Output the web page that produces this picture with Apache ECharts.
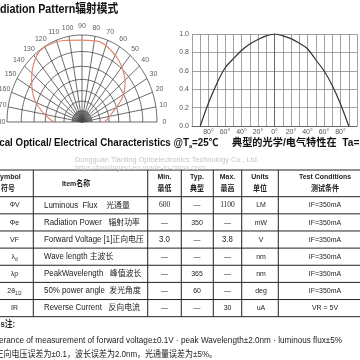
<!DOCTYPE html>
<html><head><meta charset="utf-8">
<script src="https://cdn.jsdelivr.net/npm/echarts@6/dist/echarts.min.js"></script>
<style>html,body{margin:0;padding:0;background:#fff}#c{width:360px;height:360px}</style>
</head><body><div id="c"></div>
<script>
// ---- radiation pattern (polar data: angle in degrees, relative radius) ----
const patternAngles = [0, 8, 15, 27, 38, 45, 55, 65, 75, 90, 105, 115, 125, 135, 145, 158, 169, 180];
const patternRadius = [0.30, 0.36, 0.42, 0.60, 0.73, 0.79, 0.86, 0.91, 0.95, 0.94, 0.97, 0.99, 0.99, 0.92, 0.82, 0.68, 0.52, 0.38];
const ringRadii = [0.13, 0.24, 0.36, 0.49, 0.64, 0.81, 1.0];
const angleTicks = [0, 10, 20, 30, 40, 50, 60, 70, 80, 90, 100, 110, 120, 130, 140, 150, 160, 170, 180];
// ---- relative intensity vs angle (cartesian) ----
const curveAngles = [-90, -80, -70, -60, -50, -40, -30, -20, -10, 0, 10, 20, 30, 40, 50, 60, 70, 80, 90];
const curveValues = [0, 0.25, 0.46, 0.63, 0.73, 0.82, 0.89, 0.94, 0.98, 1.0, 0.98, 0.95, 0.90, 0.84, 0.72, 0.60, 0.44, 0.24, 0];
// ---- table ----
const headerEn = ['Symbol', 'Item名称', 'Min.', 'Typ.', 'Max.', 'Units', 'Test Conditions'];
const headerCn = ['符号', '', '最低', '典型', '最高', '单位', '测试条件'];
const symbols = ['ΦV', 'Φe', 'VF', 'λ{sub|d}', 'λp', '2θ{sub|1/2}', 'IR'];
const items = ['Luminous  Flux    光通量', 'Radiation Power   辐射功率', 'Forward Voltage [1]正向电压', 'Wave length 主波长', 'PeakWavelength   峰值波长', '50% power angle  发光角度', 'Reverse Current   反向电流'];
const minVals = ['600', '—', '3.0', '—', '—', '—', '—'];
const typVals = ['—', '350', '—', '—', '365', '60', '—'];
const maxVals = ['1100', '—', '3.8', '—', '—', '—', '30'];
const units = ['LM', 'mW', 'V', 'nm', 'nm', 'deg', 'uA'];
const conditions = ['IF=350mA', 'IF=350mA', 'IF=350mA', 'IF=350mA', 'IF=350mA', 'IF=350mA', 'VR = 5V'];
const titleText = 'Radiation Pattern辐射模式';
const headingEn = 'Typical Optical/ Electrical Characteristics @T{sub|a}=25℃';
const headingCn = '典型的光学/电气特性在  Ta=25℃';
const watermark1 = 'Dongguan Tianling Optoelectronics Technology Co., Ltd.';
const watermark2 = 'https://tianlingled.en.made-in-china.com';
const notesTitle = 'Notes注:';
const noteEn = 'Tolerance of measurement of forward voltage±0.1V · peak Wavelength±2.0nm · luminous flux±5%';
const noteCn = '正向电压误差为±0.1，波长误差为2.0nm，光通量误差为±5%。';

const FONT = '"Liberation Sans", Arial, "Noto Sans CJK SC", sans-serif';
function T(x, y, text, o) {
  o = o || {};
  return {
    type: 'text', x: x, y: y, scaleX: o.sx == null ? 0.87 : o.sx, silent: true, z: 10,
    style: {
      text: text, x: 0, y: 0, fill: o.color || '#222',
      fontSize: o.size || 8, fontFamily: o.family || FONT, fontWeight: o.bold ? 'bold' : 'normal',
      align: o.align || 'center', verticalAlign: 'middle',
      rich: o.rich
    }
  };
}
function L(x1, y1, x2, y2, c, w) {
  return { type: 'line', silent: true, z: 5, shape: { x1: x1, y1: y1, x2: x2, y2: y2 }, style: { stroke: c || '#222', lineWidth: w || 1 } };
}

const g = [];
g.push(T(-13.8, 10, titleText, { size: 12.5, bold: true, align: 'left', sx: 0.86, color: '#111' }));
g.push(T(-20.1, 143, headingEn, { size: 10.5, bold: true, align: 'left', sx: 0.93, color: '#111',
  rich: { sub: { fontSize: 6, fontWeight: 'bold', verticalAlign: 'bottom', padding: [6, 0, 0, 0], fontFamily: FONT } } }));
g.push(T(232, 143, headingCn, { size: 10.5, bold: true, align: 'left', sx: 0.97, color: '#111' }));
g.push(T(75, 160, watermark1, { size: 8, align: 'left', sx: 0.92, color: '#c4c4c4' }));
g.push(T(75, 168, watermark2, { size: 8, align: 'left', sx: 0.92, color: '#cfcfcf' }));

// table geometry
const tTop = 170, hBot = 196.7, rowH = 17.14;
const vLines = [33.3, 147.7, 181.3, 213.3, 241.7, 278.3];
const colX = [8, 76, 164.5, 197, 227.5, 260, 325];
const tBot = hBot + rowH * items.length;
g.push(L(-5, tTop, 365, tTop));
g.push(L(-5, hBot, 365, hBot));
for (let i = 1; i <= items.length; i++) g.push(L(-5, hBot + rowH * i, 365, hBot + rowH * i));
vLines.forEach(function (x) { g.push(L(x, tTop, x, tBot)); });
headerEn.forEach(function (h, i) {
  if (headerCn[i]) {
    g.push(T(colX[i], 177, h, { size: 8, bold: true }));
    g.push(T(colX[i], 188.5, headerCn[i], { size: 8, bold: true }));
  } else {
    g.push(T(colX[i], 183.5, h, { size: 8, bold: true }));
  }
});
const subRich = { sub: { fontSize: 5.5, verticalAlign: 'bottom', padding: [5, 0, 0, 0], fontFamily: FONT, fill: '#222' } };
items.forEach(function (it, i) {
  const y = hBot + rowH * (i + 0.5);
  g.push(T(14.5, y, symbols[i], { size: 8, rich: subRich }));
  g.push(T(44, y, it, { size: 8.3, align: 'left', sx: 0.95 }));
  g.push(T(164.5, y, minVals[i], minVals[i] === '600' ? { size: 7.5, family: '"Liberation Serif", serif', sx: 1 } : { size: minVals[i] === '3.0' ? 9 : 8 }));
  g.push(T(197, y, typVals[i], { size: 8 }));
  g.push(T(227.5, y, maxVals[i], maxVals[i] === '1100' ? { size: 7.5, family: '"Liberation Serif", serif', sx: 1 } : { size: maxVals[i] === '3.8' ? 9 : 8 }));
  g.push(T(261, y, units[i], { size: 8 }));
  g.push(T(325, y, conditions[i], { size: 8 }));
});
g.push(T(-17, 325, notesTitle, { size: 9, bold: true, align: 'left' }));
g.push(T(-11.4, 341, noteEn, { size: 8.6, align: 'left', sx: 0.95 }));
g.push(T(-4.5, 355, noteCn, { size: 8.6, align: 'left', sx: 0.93 }));

// radiation pattern drawn on a value-axis grid (angle/radius -> axis values)
function pp(r, a) { const t = a * Math.PI / 180; return [r * Math.cos(t), r * Math.sin(t)]; }
const gridLine = { color: '#484848', width: 0.8 };
const polarSeries = [];
function gridSeries(d) {
  return { type: 'line', xAxisIndex: 0, yAxisIndex: 0, data: d, symbol: 'none', silent: true, clip: false,
    lineStyle: gridLine, z: 1, animation: false };
}
ringRadii.forEach(function (r) {
  const d = [];
  for (let a = 0; a <= 180; a += 2) d.push(pp(r, a));
  polarSeries.push(gridSeries(d));
});
angleTicks.forEach(function (a) {
  polarSeries.push(gridSeries([pp(0, a), pp(1, a)]));
  if (a < 180) polarSeries.push(gridSeries([pp(0, a + 5), pp(ringRadii[0], a + 5)]));
});
polarSeries.push({ type: 'scatter', xAxisIndex: 0, yAxisIndex: 0, symbolSize: 0, silent: true, clip: false,
  data: angleTicks.map(function (a) { return pp(1.1, a); }),
  label: { show: true, position: 'inside', fontSize: 7, color: '#333', fontFamily: FONT,
    formatter: function (p) { return String(angleTicks[p.dataIndex]); } } });
polarSeries.push({ type: 'line', xAxisIndex: 0, yAxisIndex: 0, clip: false,
  data: patternAngles.map(function (a, i) { return pp(patternRadius[i], a); }),
  symbol: 'none', smooth: 0.3, lineStyle: { color: '#e3876c', width: 1.2 }, z: 4 });

const chart = echarts.init(document.getElementById('c'), null, { renderer: 'canvas' });
chart.setOption({
  animation: false,
  backgroundColor: '#fff',
  grid: [
    { left: 7, top: 35, width: 150, height: 87 },
    { left: 192, top: 34, width: 167, height: 92 }
  ],
  xAxis: [
    { gridIndex: 0, type: 'value', min: -1, max: 1, show: false },
    {
      gridIndex: 1, type: 'value', min: -100, max: 100, interval: 10,
      axisLine: { lineStyle: { color: '#666' } }, axisTick: { show: false },
      axisLabel: { fontSize: 7, color: '#555', margin: 3, fontFamily: FONT,
        formatter: function (v) { return (v % 20 === 0 && Math.abs(v) < 100) ? Math.abs(v) + '°' : ''; } },
      splitLine: { show: true, lineStyle: { color: '#8a8a8a', width: 0.8 } }
    }
  ],
  yAxis: [
    { gridIndex: 0, type: 'value', min: 0, max: 1, show: false },
    {
      gridIndex: 1, type: 'value', min: 0, max: 1, interval: 0.2,
      axisLine: { show: true, lineStyle: { color: '#666' } }, axisTick: { show: false },
      axisLabel: { fontSize: 7, color: '#555', margin: 3, fontFamily: FONT, formatter: function (v) { return v.toFixed(1); } },
      splitLine: { show: true, lineStyle: { color: '#8a8a8a', width: 0.8 } }
    }
  ],
  series: polarSeries.concat([
    { type: 'line', xAxisIndex: 1, yAxisIndex: 1, data: curveAngles.map(function (a, i) { return [a, curveValues[i]]; }),
      symbol: 'none', smooth: 0.35, lineStyle: { color: '#333', width: 1.2 }, z: 3 }
  ]),
  graphic: g
});
</script></body></html>
